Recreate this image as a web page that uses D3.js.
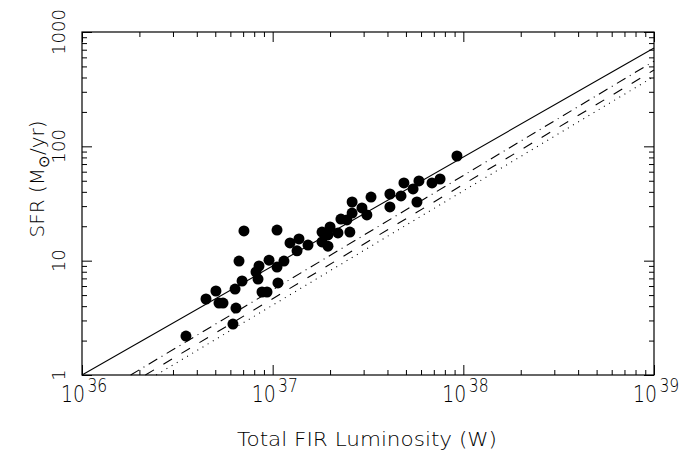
<!DOCTYPE html>
<html>
<head>
<meta charset="utf-8">
<script src="https://cdn.jsdelivr.net/npm/d3@7"></script>
<style>
  body { margin: 0; background: #fff; }
  text { font-family: "DejaVu Sans", sans-serif; font-weight: 200; fill: #000; }
</style>
</head>
<body>
<div id="chart"></div>
<script>
// FIR luminosity (W) and star formation rate (Msun/yr) for each galaxy
const lum = [
  3.51e36, 4.47e36, 5.04e36, 5.23e36, 5.49e36, 6.19e36, 6.42e36, 6.35e36, 6.66e36, 6.91e36,
  7.07e36, 8.18e36, 8.38e36, 8.48e36, 8.79e36, 9.34e36, 9.57e36, 1.054e37, 1.066e37, 1.054e37,
  1.146e37, 1.233e37, 1.374e37, 1.342e37, 1.532e37, 1.815e37, 2.0e37, 1.95e37, 2.2e37, 2.54e37,
  2.28e37, 1.95e37, 2.61e37, 2.61e37, 2.94e37, 3.12e37, 2.45e37, 3.28e37, 4.12e37, 4.12e37,
  4.71e37, 4.88e37, 5.45e37, 5.85e37, 5.71e37, 6.85e37, 7.55e37, 9.26e37, 1.815e37
];
const sfr = [
  2.19, 4.62, 5.43, 4.26, 4.26, 2.79, 3.85, 5.65, 9.93, 6.64,
  18.2, 7.96, 6.91, 8.98, 5.32, 5.32, 10.1, 18.5, 6.38, 8.80,
  9.93, 14.3, 15.5, 12.2, 13.7, 17.8, 19.7, 16.8, 17.5, 17.8,
  23.1, 13.4, 32.6, 26.1, 28.9, 25.1, 22.7, 36.0, 38.3, 29.5,
  36.8, 47.8, 42.4, 49.8, 32.6, 47.8, 51.8, 82.3, 14.6
];

// calibration lines, two end points each
const relStyle = ["solid", "dashdot", "dashed", "dotted"];
const relLum = [[1e36, 1e39], [1.8e36, 1e39], [2.15e36, 1e39], [2.45e36, 1e39]];
const relSfr = [[1, 725], [1, 556], [1, 465], [1, 408]];

const xTickVals = [1e36, 1e37, 1e38, 1e39];
const xTickExp = ["36", "37", "38", "39"];
const yTickVals = [1, 10, 100, 1000];
const yTickText = ["1", "10", "100", "1000"];

const width = 697, height = 456;
const margin = { top: 32, right: 43, bottom: 81, left: 82 };
const w = width - margin.left - margin.right;
const h = height - margin.top - margin.bottom;

const svg = d3.select("#chart").append("svg")
  .attr("width", width)
  .attr("height", height);

const g = svg.append("g")
  .attr("transform", "translate(" + margin.left + "," + margin.top + ")");

const x = d3.scaleLog().domain([1e36, 1e39]).range([0, w]);
const y = d3.scaleLog().domain([1, 1000]).range([h, 0]);

function minors(lo, hi) {
  const out = [];
  for (let p = lo; p < hi; p++) {
    for (let k = 2; k <= 9; k++) out.push(k * Math.pow(10, p));
  }
  return out;
}
const xMinor = minors(36, 39);
const yMinor = minors(0, 3);

// ticks on all four sides, pointing inward
function addAxis(axisFn, scale, vals, size, transform) {
  g.append("g")
    .attr("class", "axis")
    .attr("transform", transform)
    .call(axisFn(scale).tickValues(vals).tickSize(size).tickFormat(""))
    .call(s => s.select(".domain").remove());
}
addAxis(d3.axisBottom, x, xTickVals, -10, "translate(0," + h + ")");
addAxis(d3.axisBottom, x, xMinor, -5, "translate(0," + h + ")");
addAxis(d3.axisTop, x, xTickVals, -10, "translate(0,0)");
addAxis(d3.axisTop, x, xMinor, -5, "translate(0,0)");
addAxis(d3.axisLeft, y, yTickVals, -10, "translate(0,0)");
addAxis(d3.axisLeft, y, yMinor, -5, "translate(0,0)");
addAxis(d3.axisRight, y, yTickVals, -10, "translate(" + w + ",0)");
addAxis(d3.axisRight, y, yMinor, -5, "translate(" + w + ",0)");
g.selectAll(".axis line").attr("stroke", "#000").attr("stroke-width", 1);

g.append("rect")
  .attr("width", w)
  .attr("height", h)
  .attr("fill", "none")
  .attr("stroke", "#000")
  .attr("stroke-width", 1.2);

// x tick labels: 10 with exponent, squeezed a little to the narrow plot font
xTickVals.forEach((v, i) => {
  const t = g.append("text")
    .attr("transform", "translate(" + (x(v) - 21) + "," + (h + 27) + ") scale(0.82,1)")
    .attr("font-size", 23);
  t.append("tspan").text("10");
  t.append("tspan")
    .attr("dx", 3)
    .attr("dy", -10)
    .attr("font-size", 19)
    .text(xTickExp[i]);
});

// y tick labels, rotated
yTickVals.forEach((v, i) => {
  g.append("text")
    .attr("transform", "translate(-17," + y(v) + ") rotate(-90)")
    .attr("text-anchor", "middle")
    .attr("font-size", 18)
    .text(yTickText[i]);
});

// axis titles
svg.append("text")
  .attr("x", 367)
  .attr("y", 446)
  .attr("text-anchor", "middle")
  .attr("font-size", 20)
  .attr("textLength", 260)
  .attr("lengthAdjust", "spacingAndGlyphs")
  .text("Total FIR Luminosity (W)");

const yt = svg.append("text")
  .attr("transform", "translate(44,179) rotate(-90)")
  .attr("text-anchor", "middle")
  .attr("font-size", 20);
yt.append("tspan").text("SFR (M");
yt.append("tspan").attr("dy", 5).attr("font-size", 15).text("\u2299");
yt.append("tspan").attr("dy", -5).text("/yr)");

// calibration lines
const dash = { solid: null, dashdot: "10,5,1,5", dashed: "10,11", dotted: "1,5" };
const line = d3.line().x(d => x(d[0])).y(d => y(d[1]));
relStyle.forEach((s, i) => {
  g.append("path")
    .datum(relLum[i].map((l, j) => [l, relSfr[i][j]]))
    .attr("d", line)
    .attr("fill", "none")
    .attr("stroke", "#000")
    .attr("stroke-width", 1.1)
    .attr("stroke-dasharray", dash[s]);
});

// galaxies
g.selectAll(".dot")
  .data(lum.map((l, i) => [l, sfr[i]]))
  .enter()
  .append("circle")
  .attr("class", "dot")
  .attr("cx", d => x(d[0]))
  .attr("cy", d => y(d[1]))
  .attr("r", 5.5)
  .attr("fill", "#000");
</script>
</body>
</html>
